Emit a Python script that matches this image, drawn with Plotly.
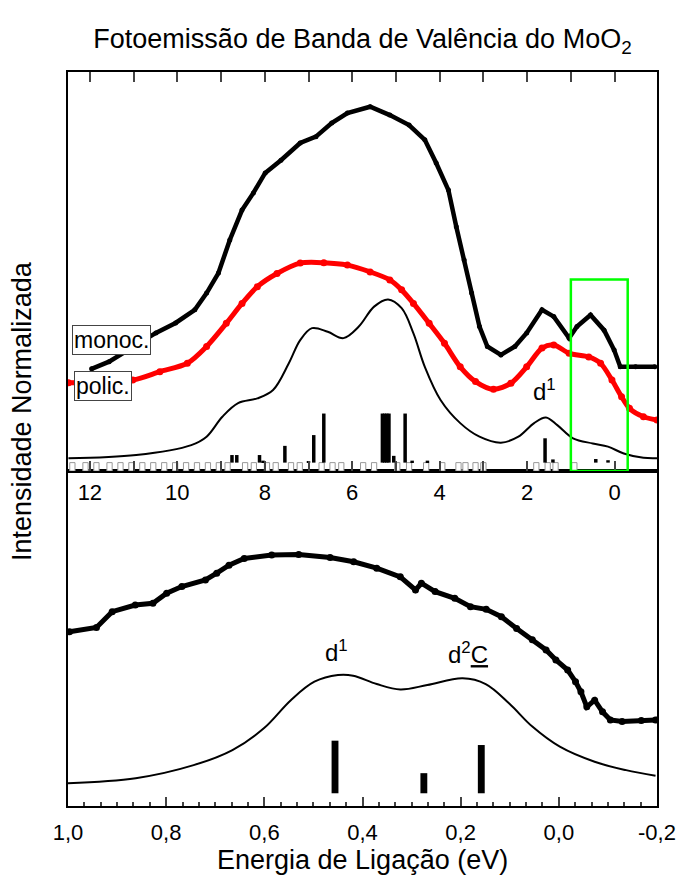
import plotly.graph_objects as go

# ---------------- top panel data (binding energy eV, normalized intensity) ----------------
mono_E = [11.96, 11.56, 10.49, 10.04, 9.60, 9.33, 9.06, 8.80, 8.52, 8.26, 7.99, 7.63, 7.19, 6.83,
          6.47, 6.11, 5.59, 5.14, 4.70, 4.34, 4.08, 3.80, 3.62, 3.44, 3.27, 3.09, 2.91, 2.60, 2.28,
          2.01, 1.66, 1.39, 1.04, 0.86, 0.55, 0.24, 0.01, -0.13, -0.48, -0.92]
mono_I = [25.6, 27.4, 34.6, 37.1, 40.4, 44.6, 49.6, 57.9, 65.4, 69.7, 74.7, 77.9, 82.2, 83.8,
          87.2, 89.7, 91.3, 89.2, 86.7, 83.0, 77.2, 70.4, 61.2, 52.9, 44.6, 36.2, 31.2, 29.1, 31.2,
          34.6, 40.4, 38.7, 33.3, 36.2, 39.1, 35.3, 30.3, 26.1, 26.1, 26.1]

poli_E = [12.49, 11.02, 10.40, 9.77, 9.33, 8.88, 8.52, 8.17, 7.72, 7.19, 6.65, 6.11, 5.59, 5.14,
          4.87, 4.60, 4.24, 3.89, 3.53, 3.18, 2.77, 2.37, 2.01, 1.66, 1.39, 1.04, 0.59, 0.32, 0.06,
          -0.16, -0.34, -0.66, -0.97]
poli_I = [22.1, 22.8, 24.9, 27.0, 31.2, 37.0, 42.0, 46.2, 49.5, 52.1, 52.2, 51.6, 49.9, 47.9,
          45.4, 42.0, 37.0, 32.0, 26.1, 22.4, 20.5, 22.0, 26.1, 30.8, 31.6, 29.5, 28.6, 27.0, 22.8,
          18.6, 15.7, 13.6, 12.8]

calc_E = [12.49, 10.94, 9.68, 9.33, 8.97, 8.61, 8.17, 7.81, 7.45, 7.19, 6.92, 6.56, 6.20, 5.85,
          5.50, 5.18, 4.87, 4.60, 4.34, 3.98, 3.53, 3.09, 2.60, 2.20, 1.84, 1.57, 1.31, 0.95, 0.50,
          0.15, -0.21, -0.66, -0.97]
calc_I = [3.2, 4.0, 6.5, 8.6, 13.6, 17.0, 18.2, 20.3, 27.0, 32.8, 35.8, 34.9, 33.3, 36.2,
          41.2, 43.0, 40.8, 34.5, 26.1, 17.8, 12.0, 8.6, 7.1, 8.6, 12.0, 13.4, 11.5, 8.2, 6.9,
          6.1, 4.4, 3.3, 3.2]

# calculated states (sticks)
stick_E = [8.75, 8.64, 8.12, 8.04, 7.54, 7.00, 6.88, 6.65, 5.31, 5.26, 5.21, 5.16, 5.05, 4.79,
           4.63, 4.28, 1.59, 1.41, 0.43, 0.15]
stick_H = [1.9, 1.9, 1.9, 0.5, 4.2, 0.4, 6.9, 12.3, 12.3, 12.3, 12.3, 12.3, 1.7, 12.3,
           0.5, 0.5, 6.1, 0.8, 0.9, 0.6]
stick_base = 2.1

# empty states (open boxes along the baseline)
open_E = [12.40, 12.10, 11.85, 11.55, 11.30, 11.05, 10.80, 10.55, 10.30, 10.05, 9.80, 9.55,
          9.30, 9.05, 8.85, 8.45, 8.25, 7.95, 7.75, 7.40, 7.20, 6.70, 6.45, 6.25, 5.75, 5.50,
          4.97, 4.70, 4.31, 3.94, 3.57, 3.41, 3.18, 3.00, 1.79, 1.53, 1.35, 0.92]
open_H = [2.1] * len(open_E)

# ---------------- bottom panel data ----------------
mono2_E = [0.997, 0.942, 0.910, 0.863, 0.827, 0.799, 0.768, 0.720, 0.697, 0.672, 0.641, 0.585,
           0.530, 0.466, 0.418, 0.371, 0.323, 0.292, 0.280, 0.252, 0.212, 0.180, 0.148, 0.117,
           0.086, 0.054, 0.026, 0.006, -0.018, -0.034, -0.045, -0.057, -0.073, -0.089, -0.105,
           -0.129, -0.168, -0.197]
mono2_I = [52.0, 53.3, 58.0, 60.0, 60.5, 63.5, 65.5, 67.5, 69.5, 71.9, 73.9, 74.9,
           75.1, 74.2, 72.9, 71.0, 68.4, 64.5, 66.5, 64.0, 62.0, 59.5, 58.7, 56.5,
           53.0, 49.6, 46.6, 43.6, 40.6, 37.1, 34.1, 29.6, 31.6, 28.1, 25.7,
           25.2, 25.5, 25.7]

calc2_E = [1.0, 0.862, 0.744, 0.665, 0.601, 0.546, 0.498, 0.450, 0.419, 0.371, 0.323, 0.268,
           0.196, 0.149, 0.101, 0.054, -0.002, -0.073, -0.137, -0.197]
calc2_I = [6.8, 8.3, 12.2, 16.7, 23.2, 31.6, 37.1, 39.1, 38.9, 36.4, 34.8, 36.1,
           38.1, 36.4, 30.6, 23.7, 17.7, 13.2, 10.7, 9.0]

stick2_E = [0.456, 0.275, 0.158]
stick2_H = [15.7, 6.0, 14.4]
stick2_base = 3.8

top_ticks = [12, 10, 8, 6, 4, 2, 0]
bot_ticks = [1.0, 0.8, 0.6, 0.4, 0.2, 0.0, -0.2]
bot_ticktext = ["1,0", "0,8", "0,6", "0,4", "0,2", "0,0", "-0,2"]

FONT = "Arial, 'Liberation Sans', sans-serif"

fig = go.Figure()

# ---- top panel ----
fig.add_trace(go.Bar(x=open_E, y=open_H, base=0, width=0.12, xaxis="x2", yaxis="y2",
                     marker=dict(color="white", line=dict(color="#999999", width=1)),
                     showlegend=False))
fig.add_trace(go.Bar(x=stick_E, y=stick_H, base=stick_base, width=0.08, xaxis="x2", yaxis="y2",
                     marker=dict(color="black", line=dict(width=0)), showlegend=False))
fig.add_trace(go.Scatter(x=calc_E, y=calc_I, mode="lines", xaxis="x2", yaxis="y2",
                         line=dict(color="black", width=2, shape="spline", smoothing=1.0),
                         showlegend=False))
fig.add_trace(go.Scatter(x=poli_E, y=poli_I, mode="lines+markers", xaxis="x2", yaxis="y2",
                         line=dict(color="#ff0000", width=5, shape="spline", smoothing=0.8),
                         marker=dict(color="#ff0000", size=7), showlegend=False))
fig.add_trace(go.Scatter(x=mono_E, y=mono_I, mode="lines+markers", xaxis="x2", yaxis="y2",
                         line=dict(color="black", width=4.5),
                         marker=dict(color="black", size=5), showlegend=False))

# ---- bottom panel ----
fig.add_trace(go.Bar(x=stick2_E, y=stick2_H, base=stick2_base, width=0.014, xaxis="x", yaxis="y",
                     marker=dict(color="black", line=dict(width=0)), showlegend=False))
fig.add_trace(go.Scatter(x=calc2_E, y=calc2_I, mode="lines", xaxis="x", yaxis="y",
                         line=dict(color="black", width=2, shape="spline", smoothing=1.0),
                         showlegend=False))
fig.add_trace(go.Scatter(x=mono2_E, y=mono2_I, mode="lines+markers", xaxis="x", yaxis="y",
                         line=dict(color="black", width=5),
                         marker=dict(color="black", size=7), showlegend=False))

split = 335 / 734

axis_common = dict(showline=True, linecolor="black", linewidth=2, showgrid=False, zeroline=False,
                   automargin=False)

fig.update_layout(
    width=679, height=876,
    margin=dict(l=68, r=22, t=72, b=70, autoexpand=False),
    paper_bgcolor="white", plot_bgcolor="white",
    barmode="overlay", showlegend=False,
    font=dict(family=FONT, color="black", size=22),
    title=dict(text="Fotoemissão de Banda de Valência do MoO<sub>2</sub>",
               x=0.5, xref="paper", xanchor="center", y=1 - 39 / 876, yanchor="middle",
               font=dict(family=FONT, size=27, color="black"), automargin=False),
    xaxis2=dict(domain=[0, 1], anchor="y2", range=[12.5, -0.97], tickvals=top_ticks,
                ticks="inside", ticklen=10, tickwidth=1.5, mirror="ticks",
                minor=dict(dtick=1, tick0=0, ticks="inside", ticklen=10, tickwidth=1.5),
                ticklabelstandoff=1, tickfont=dict(size=22), **axis_common),
    yaxis2=dict(domain=[split, 1], anchor="x2", range=[0, 100], showticklabels=False,
                ticks="", mirror=True, **axis_common),
    xaxis=dict(domain=[0, 1], anchor="y", range=[1.0, -0.2], tickvals=bot_ticks,
               ticktext=bot_ticktext, ticks="inside", ticklen=9, tickwidth=1.5, mirror=True,
               minor=dict(dtick=0.2 / 6, tick0=0, ticks="inside", ticklen=4, tickwidth=1.5),
               ticklabelstandoff=6, tickfont=dict(size=22), **axis_common),
    yaxis=dict(domain=[0, split], anchor="x", range=[0, 100], showticklabels=False,
               ticks="", mirror=True, **axis_common),
)

fig.add_shape(type="rect", xref="x2", yref="y2", x0=1.0, x1=-0.3, y0=0, y1=48,
              line=dict(color="#00ff00", width=2.5), fillcolor="rgba(0,0,0,0)")

ann_font = dict(family=FONT, size=24, color="black")
box_font = dict(family=FONT, size=23, color="black")
fig.add_annotation(x=11.5, y=32.8, xref="x2", yref="y2", text="monoc.", showarrow=False,
                   font=box_font, bgcolor="white", bordercolor="#444444", borderwidth=1, borderpad=1)
fig.add_annotation(x=11.71, y=21.3, xref="x2", yref="y2", text="polic.", showarrow=False,
                   font=box_font, bgcolor="white", bordercolor="#444444", borderwidth=1, borderpad=1)
fig.add_annotation(x=1.60, y=20.3, xref="x2", yref="y2", text="d<sup>1</sup>", showarrow=False,
                   font=ann_font)
fig.add_annotation(x=0.454, y=46.3, xref="x", yref="y", text="d<sup>1</sup>", showarrow=False,
                   font=ann_font)
fig.add_annotation(x=0.185, y=45.7, xref="x", yref="y", text="d<sup>2</sup><u>C</u>",
                   showarrow=False, font=ann_font)

# axis titles
fig.add_annotation(xref="paper", yref="paper", x=0.5, y=0, yshift=-54, yanchor="middle",
                   text="Energia de Ligação (eV)", showarrow=False,
                   font=dict(family=FONT, size=27, color="black"))
fig.add_annotation(xref="paper", yref="paper", x=0, xshift=-46, xanchor="center",
                   y=(806 - 411) / 734, yanchor="middle", textangle=-90,
                   text="Intensidade Normalizada", showarrow=False,
                   font=dict(family=FONT, size=27, color="black"))

fig.write_html("out.html", config={"displayModeBar": False},
               post_script="document.body.style.margin='0';")
